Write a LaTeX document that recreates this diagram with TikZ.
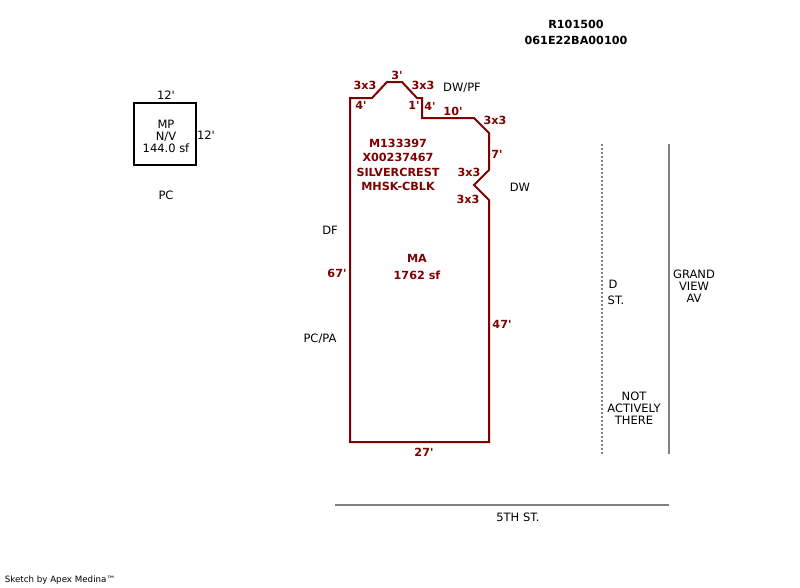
\documentclass[tikz,border=0pt]{standalone}
\usepackage{fontspec}
\setmainfont{DejaVu Sans}[Ligatures=TeXOff]
\definecolor{wallred}{RGB}{128,0,0}
\definecolor{streetgray}{RGB}{128,128,128}
\tikzset{
  lbl/.style={inner sep=0pt,align=center,font=\fontsize{11.5}{12}\selectfont},
  redlbl/.style={lbl,text=wallred,font=\fontsize{11.2}{14.4}\selectfont\bfseries},
  street/.style={streetgray,line width=2pt}
}
\begin{document}
\begin{tikzpicture}[x=1pt,y=-1pt]
  \useasboundingbox (0,0) rectangle (800,587);
  % parcel ids
  \node[lbl,font=\fontsize{11.2}{16}\selectfont\bfseries] (parcel) at (576,32) {R101500\\061E22BA00100};
  % small building
  \draw[line width=2pt] (134,103) -- (196,103) -- (196,165) -- (134,165) -- cycle;
  \node[lbl] (mpdim) at (166,95) {12'};
  \node[lbl] (mpside) at (206,135) {12'};
  \node[lbl] (mptext) at (166,136) {MP\\N/V\\144.0 sf};
  \node[lbl] (pcleft) at (166,195) {PC};
  % main building
  \draw[wallred,line width=2pt] (350,98) -- (372,98) -- (387,82) -- (402,82) -- (417,98)
    -- (422,98) -- (422,118) -- (474,118) -- (489,133) -- (489,170) -- (474,185)
    -- (489,200) -- (489,442) -- (350,442) -- cycle;
  % wall sizes
  \node[redlbl] (ang1) at (365,85) {3x3};
  \node[redlbl] (top) at (397,75) {3'};
  \node[redlbl] (ang2) at (423,85) {3x3};
  \node[redlbl] (wall4a) at (361,105) {4'};
  \node[redlbl] (wall1) at (414,105) {1'};
  \node[redlbl] (wall4b) at (430,106) {4'};
  \node[redlbl] (wall10) at (453,111) {10'};
  \node[redlbl] (ang3) at (495,120) {3x3};
  \node[redlbl] (wall7) at (497,154) {7'};
  \node[redlbl] (ang4) at (469,172) {3x3};
  \node[redlbl] (ang5) at (468,199) {3x3};
  \node[redlbl] (wall67) at (337,273) {67'};
  \node[redlbl] (wall47) at (502,324) {47'};
  \node[redlbl] (wall27) at (424,452) {27'};
  % main building text
  \node[redlbl] (model) at (398,165) {M133397\\X00237467\\SILVERCREST\\MHSK-CBLK};
  \node[redlbl,font=\fontsize{11.2}{17}\selectfont\bfseries] (area) at (417,266.5) {MA\\1762 sf};
  % side labels
  \node[lbl] (dwpf) at (462,88) {DW/PF};
  \node[lbl] (dw) at (520,187) {DW};
  \node[lbl] (df) at (330,230) {DF};
  \node[lbl] (pcpa) at (320,339) {PC/PA};
  % streets
  \coordinate (dtop) at (602,144);
  \coordinate (dbot) at (602,454);
  \coordinate (gtop) at (669,144);
  \coordinate (gbot) at (669,454);
  \coordinate (fifthw) at (335,505);
  \coordinate (fifthe) at (669,505);
  \draw[street,dash pattern=on 2pt off 2pt] (dtop) -- (dbot);
  \draw[street] (gtop) -- (gbot);
  \draw[street] (fifthw) -- (fifthe);
  \node[lbl] (dname) at (613,284) {D};
  \node[lbl] (dst) at (616,300) {ST.};
  \node[lbl] (grand) at (694,286) {GRAND\\VIEW\\AV};
  \node[lbl] (notthere) at (634,408) {NOT\\ACTIVELY\\THERE};
  \node[lbl] (fifth) at (518,517) {5TH ST.};
  % footer
  \node[lbl,font=\fontsize{8.7}{10}\selectfont] (sketch) at (60,580) {Sketch by Apex Medina™};
\end{tikzpicture}
\end{document}
